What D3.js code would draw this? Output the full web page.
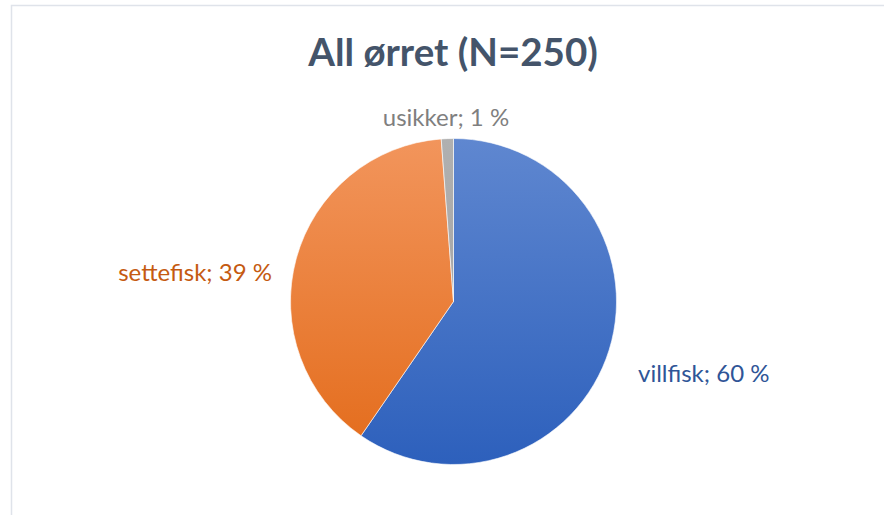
<!DOCTYPE html>
<html><head><meta charset="utf-8">
<script src="https://cdn.jsdelivr.net/npm/d3@7"></script>
<style>html,body{margin:0;padding:0;background:#fff;}svg{display:block;}</style>
</head><body>
<svg id="c" width="884" height="515"></svg>
<script>
const title = "All ørret (N=250)";
const categories = ["villfisk", "settefisk", "usikker"];
const counts = [149, 98, 3];
const labels = ["villfisk; 60 %", "settefisk; 39 %", "usikker; 1 %"];
const topColors = ["#5f87d0", "#f2955c", "#b0b0b0"];
const bottomColors = ["#2d60bc", "#e36b1a", "#9e9e9e"];
const labelColors = ["#2f5597", "#c55a11", "#7f7f7f"];

const svg = d3.select("#c");
const font = "Lato, 'Open Sans', sans-serif";
svg.append("rect").attr("x", 11.5).attr("y", 5.5).attr("width", 880).attr("height", 520)
  .attr("fill", "#fff").attr("stroke", "#dfe3ea").attr("stroke-width", 1.5);

const cx = 453.5, cy = 301.5, r = 163;
const defs = svg.append("defs");
categories.forEach((c, i) => {
  const g = defs.append("linearGradient").attr("id", "g" + i)
    .attr("gradientUnits", "userSpaceOnUse")
    .attr("x1", 0).attr("y1", -r).attr("x2", 0).attr("y2", r);
  g.append("stop").attr("offset", "0%").attr("stop-color", topColors[i]);
  g.append("stop").attr("offset", "100%").attr("stop-color", bottomColors[i]);
});

const pie = d3.pie().sort(null).value(d => d)(counts);
const arc = d3.arc().innerRadius(0).outerRadius(r);
const g = svg.append("g").attr("transform", `translate(${cx},${cy})`);
g.selectAll("path").data(pie).join("path")
  .attr("d", arc)
  .attr("fill", (d, i) => `url(#g${i})`)
  .attr("stroke", "#fff").attr("stroke-width", 0.6);

svg.append("text").attr("x", 453).attr("y", 66).attr("text-anchor", "middle")
  .attr("font-family", font).attr("font-weight", "bold").attr("font-size", 38.5)
  .attr("fill", "#44546a").text(title);

const labelPos = [[638, 382, "start"], [272, 281, "end"], [446, 126, "middle"]];
labels.forEach((t, i) => {
  svg.append("text").attr("x", labelPos[i][0]).attr("y", labelPos[i][1])
    .attr("text-anchor", labelPos[i][2])
    .attr("font-family", font).attr("font-size", 24)
    .attr("fill", labelColors[i]).text(t);
});
</script>
</body></html>
